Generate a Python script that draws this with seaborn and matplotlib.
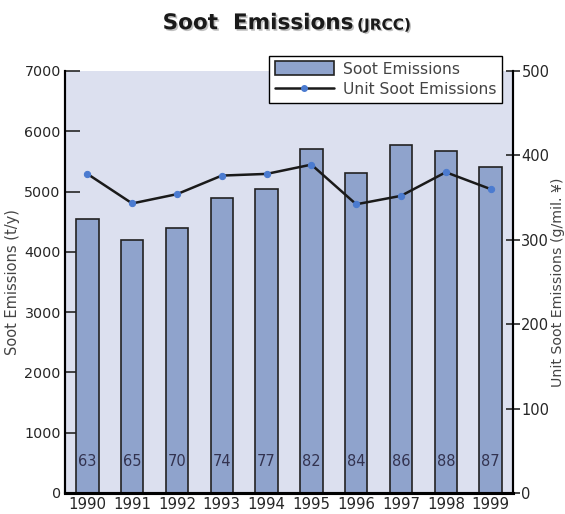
import numpy as np
import pandas as pd
import seaborn as sns
import matplotlib.pyplot as plt
import matplotlib.patheffects as pe
from matplotlib.patches import Patch
from matplotlib.lines import Line2D

years = ['1990', '1991', '1992', '1993', '1994', '1995', '1996', '1997', '1998', '1999']
soot = [4540, 4200, 4400, 4900, 5040, 5700, 5310, 5770, 5670, 5400]
unit_soot = [378, 343, 354, 376, 378, 389, 342, 352, 380, 360]
bar_labels = ['63', '65', '70', '74', '77', '82', '84', '86', '88', '87']

sns.set_style('white')
plt.rcParams['font.family'] = ['DejaVu Sans']

bar_col = '#8fa3cc'
bg_col = '#dce0ef'
dot_col = '#4b7bd0'
grey = '#444444'

df = pd.DataFrame({'year': years, 'soot': soot, 'unit': unit_soot})

fig = plt.figure(figsize=(5.65, 5.14), dpi=100)
ax = fig.add_axes([0.115, 0.041, 0.793, 0.821])
ax.set_facecolor(bg_col)

sns.barplot(data=df, x='year', y='soot', ax=ax, color=bar_col, edgecolor='#222222',
            linewidth=1.2, width=0.5, saturation=1)
ax.set_xlim(-0.5, len(years) - 0.5)
ax.set_ylim(0, 7000)
ax.set_yticks(range(0, 7001, 1000))
ax.set_xlabel('')
ax.set_ylabel('Soot Emissions (t/y)', color=grey, fontsize=10.5, labelpad=3)

# numbers near the bottom of each bar
for i, lab in enumerate(bar_labels):
    ax.text(i, 520, lab, ha='center', va='center', fontsize=10.5, color='#333350')

# x ticks at category boundaries, labels at centers
ax.set_xticks(np.arange(len(years)))
ax.set_xticklabels(years, fontsize=10.8)
ax.set_xticks(np.arange(len(years) - 1) + 0.5, minor=True)
ax.tick_params(axis='x', which='major', length=0, pad=3)
ax.tick_params(axis='x', which='minor', direction='in', length=8, width=1.2, color='black')
ax.tick_params(axis='y', direction='in', length=11, width=1.2, labelsize=10.3, pad=3)

ax2 = ax.twinx()
sns.lineplot(x=np.arange(len(years)), y=unit_soot, ax=ax2, color='#1a1a1a', linewidth=1.8,
             marker='o', markersize=4.5, markerfacecolor=dot_col, markeredgecolor=dot_col)
ax2.set_ylim(0, 500)
ax2.set_yticks(range(0, 501, 100))
ax2.tick_params(axis='y', direction='inout', length=10, width=1.2, labelsize=10.5, pad=1)
ax2.set_ylabel('Unit Soot Emissions (g/mil. \u00a5)', color=grey, fontsize=10.2, labelpad=1)

for a in (ax, ax2):
    a.spines['top'].set_visible(False)
    a.spines['left'].set_linewidth(1.5)
    a.spines['right'].set_linewidth(1.5)
    a.spines['bottom'].set_linewidth(2.2)
    for side in ('left', 'right', 'bottom'):
        a.spines[side].set_color('black')

handles = [Patch(facecolor=bar_col, edgecolor='#222222', linewidth=1.2),
           Line2D([], [], color='#1a1a1a', linewidth=1.8, marker='o', markersize=4,
                  markerfacecolor=dot_col, markeredgecolor=dot_col)]
leg = fig.legend(handles, ['Soot Emissions', 'Unit Soot Emissions'],
                 loc='upper right', bbox_to_anchor=(0.889, 0.891), fontsize=11.2,
                 frameon=True, fancybox=False, framealpha=1, edgecolor='black',
                 handlelength=3.8, handleheight=1.0, borderpad=0.35, labelspacing=0.35,
                 handletextpad=0.6, borderaxespad=0)
leg.get_frame().set_linewidth(1.0)
for t in leg.get_texts():
    t.set_color(grey)

fig.text(0.625, 0.955, 'Soot  Emissions', ha='right', va='center', fontsize=15.5,
         fontweight='bold', color='#1a1a1a',
         path_effects=[pe.SimplePatchShadow(offset=(1.2, -1.2), shadow_rgbFace='#999999', alpha=0.6),
                       pe.Normal()])
fig.text(0.632, 0.951, '(JRCC)', ha='left', va='center', fontsize=11,
         fontweight='bold', color='#1a1a1a',
         path_effects=[pe.SimplePatchShadow(offset=(1, -1), shadow_rgbFace='#999999', alpha=0.6),
                       pe.Normal()])

fig.savefig('out.png', dpi=100)
